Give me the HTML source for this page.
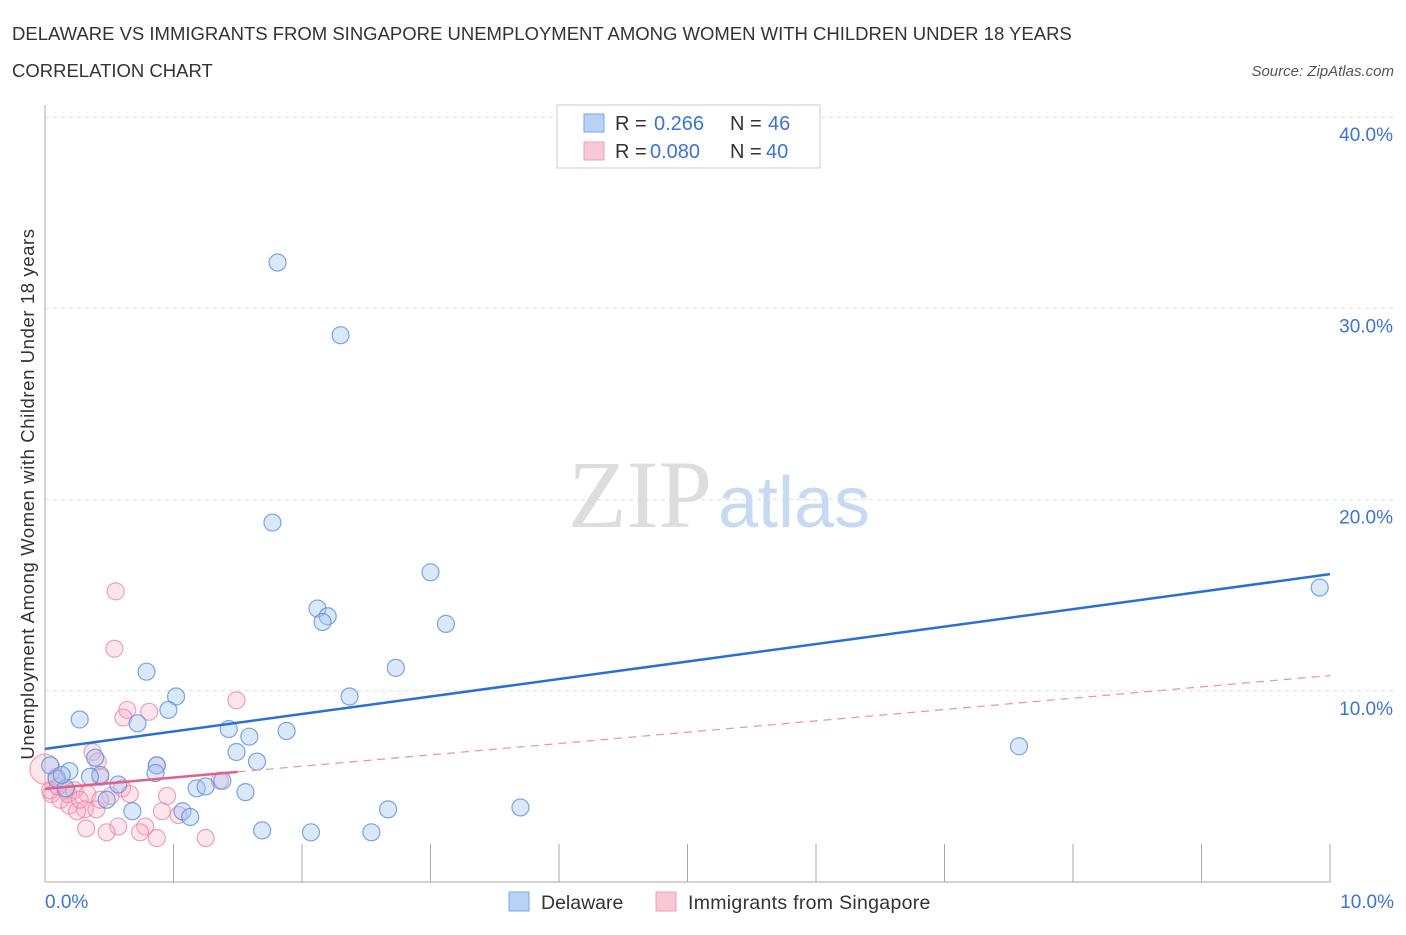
<!DOCTYPE html>
<html><head><meta charset="utf-8"><style>
body{margin:0;background:#fff;font-family:"Liberation Sans",sans-serif;}
</style></head><body>
<svg width="1406" height="930" xmlns="http://www.w3.org/2000/svg">
<text x="12" y="40" font-size="18.5" fill="#333">DELAWARE VS IMMIGRANTS FROM SINGAPORE UNEMPLOYMENT AMONG WOMEN WITH CHILDREN UNDER 18 YEARS</text>
<text x="12" y="77" font-size="18.5" fill="#333">CORRELATION CHART</text>
<text x="1394" y="76" font-size="15" fill="#555" font-style="italic" text-anchor="end">Source: ZipAtlas.com</text>
<g id="grid"></g>
<text x="712" y="527" font-size="96" fill="#ddd" text-anchor="end" font-family="Liberation Serif,serif">ZIP</text>
<text x="718" y="527" font-size="72" fill="#c8daf2">atlas</text>
<g id="pts"></g>
<g id="lines"></g>
<text transform="translate(34,494) rotate(-90)" font-size="18.5" letter-spacing="0.6" fill="#333" text-anchor="middle">Unemployment Among Women with Children Under 18 years</text>
<text x="45" y="908" font-size="19" fill="#3b73d6">0.0%</text>
<text x="1394" y="908" font-size="19" fill="#3b73d6" text-anchor="end">10.0%</text>
<g>
<rect x="557" y="105" width="263" height="63" fill="#fff" stroke="#ccc"/>
<rect x="584" y="114" width="20" height="18" fill="#b8d2f5" stroke="#7aa6e6"/>
<rect x="584" y="142" width="20" height="18" fill="#f9c8d6" stroke="#f0a0b8"/>
<text x="615" y="130" font-size="20" fill="#333">R =</text>
<text x="654" y="130" font-size="20" fill="#3b73d6">0.266</text>
<text x="730" y="130" font-size="20" fill="#333">N =</text>
<text x="768" y="130" font-size="20" fill="#3b73d6">46</text>
<text x="615" y="158" font-size="20" fill="#333">R =</text>
<text x="650" y="158" font-size="20" fill="#3b73d6">0.080</text>
<text x="730" y="158" font-size="20" fill="#333">N =</text>
<text x="766" y="158" font-size="20" fill="#3b73d6">40</text>
</g>
<g>
<rect x="509" y="892" width="20" height="19" fill="#b8d2f5" stroke="#7aa6e6"/>
<text x="541" y="909" font-size="19.5" fill="#333">Delaware</text>
<rect x="656" y="892" width="20" height="19" fill="#f9c8d6" stroke="#f0a0b8"/>
<text x="688" y="909" font-size="19.5" letter-spacing="0.3" fill="#333">Immigrants from Singapore</text>
</g>
</svg>
<script>
const yTicks=[10,20,30,40];
const blueX=[1.81,2.30,1.77,3.00,2.12,2.20,2.16,3.12,2.73,0.79,1.02,2.37,0.96,0.27,0.72,1.88,1.43,1.59,1.49,7.58,9.92,0.39,1.65,0.87,0.86,0.19,0.04,0.09,0.43,0.57,0.16,1.38,1.18,1.25,1.56,0.48,0.68,1.07,1.13,2.67,3.70,1.69,2.07,2.54,0.35,0.13];
const blueY=[32.4,28.6,18.8,16.2,14.3,13.9,13.6,13.5,11.2,11.0,9.7,9.7,9.0,8.5,8.3,7.9,8.0,7.6,6.8,7.1,15.4,6.5,6.3,6.1,5.7,5.8,6.1,5.4,5.6,5.1,4.9,5.3,4.9,5.0,4.7,4.3,3.7,3.7,3.4,3.8,3.9,2.7,2.6,2.6,5.5,5.6];
const pinkX=[0.55,0.54,1.49,0.64,0.61,0.81,0.37,0.41,0.87,0.09,0.43,0.60,0.16,0.23,0.33,0.05,0.12,0.19,0.51,0.95,0.31,0.40,0.25,0.91,1.04,0.57,0.78,0.32,0.48,0.74,0.87,1.25,0.04,0.18,1.36,0.27,0.66,0.0,0.10,0.43];
const pinkY=[15.2,12.2,9.5,9.0,8.6,8.9,6.8,6.3,6.1,5.5,5.5,4.9,4.8,4.8,4.6,4.6,4.3,4.0,4.5,4.5,3.8,3.8,3.7,3.7,3.5,2.9,2.9,2.8,2.6,2.6,2.3,2.3,4.8,4.6,5.3,4.3,4.6,5.9,5.0,4.3];
const blueTrend=[6.96,16.1];
const pinkTrend=[4.87,10.8];
const NS="http://www.w3.org/2000/svg";
const xs=v=>45+v*128.5, ys=v=>882-v*19.12;
function mk(t,a,p){const e=document.createElementNS(NS,t);for(const k in a)e.setAttribute(k,a[k]);p.appendChild(e);return e;}
const g=document.getElementById('grid');
yTicks.forEach(t=>{
 const l=mk('line',{x1:45,x2:1394,y1:ys(t),y2:ys(t),stroke:'#ddd','stroke-dasharray':'4,4'},g);
 
 
 const tx=mk('text',{x:1393,y:ys(t)+24,'font-size':19,fill:'#3b73d6','text-anchor':'end'},g);
 tx.textContent=t.toFixed(1)+'%';
 
 
});
const ax=mk('line',{x1:45,x2:45,y1:105,y2:882,stroke:'#aaa'},g);


const bx=mk('line',{x1:45,x2:1330,y1:882,y2:882,stroke:'#aaa'},g);


for(let i=0;i<=10;i++){const t=mk('line',{x1:xs(i),x2:xs(i),y1:844,y2:882,stroke:'#aaa'},g);
 
 }
const p=document.getElementById('pts');
pinkX.forEach((x,i)=>{const c=mk('circle',{cx:xs(x),cy:ys(pinkY[i]),r:(x===0?15:8.5),fill:'rgba(248,170,195,0.3)',stroke:'rgba(236,130,165,0.75)','stroke-width':1.2},p);
 
 });
blueX.forEach((x,i)=>{const c=mk('circle',{cx:xs(x),cy:ys(blueY[i]),r:8.5,fill:'rgba(164,198,240,0.4)',stroke:'rgba(90,145,220,0.8)','stroke-width':1.2},p);
 
 });
const L=document.getElementById('lines');
const bl=mk('line',{x1:xs(0),y1:ys(blueTrend[0]),x2:xs(10),y2:ys(blueTrend[1]),stroke:'#2a6fd6','stroke-width':2.5},L);


const pm=v=>pinkTrend[0]+(pinkTrend[1]-pinkTrend[0])*v/10;
const ps=mk('line',{x1:xs(0),y1:ys(pm(0)),x2:xs(1.5),y2:ys(pm(1.5)),stroke:'#e0608a','stroke-width':2.5},L);


const pd=mk('line',{x1:xs(1.5),y1:ys(pm(1.5)),x2:xs(10),y2:ys(pm(10)),stroke:'#e890aa','stroke-width':1.2,'stroke-dasharray':'8,6'},L);


</script>
</body></html>
